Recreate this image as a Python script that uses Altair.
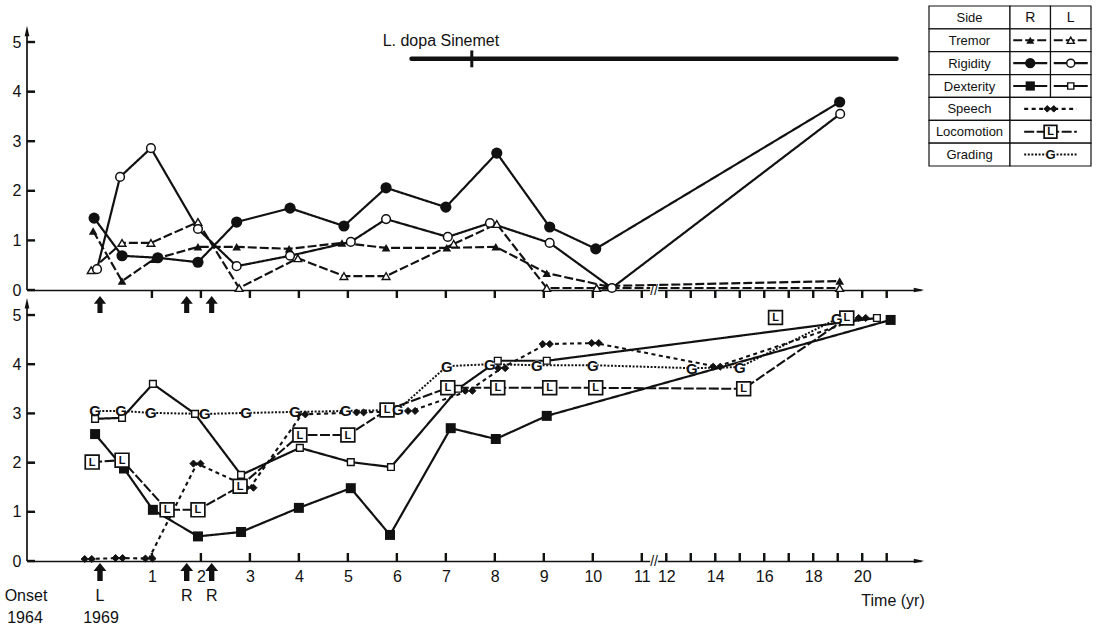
import altair as alt
import pandas as pd

FONT = "Liberation Sans"
INK = "#111111"

# ---------------- top panel: tremor & rigidity (time in years from 1969) ----------------
tremor_R_t = [-0.2, 0.39, 1.04, 1.94, 2.73, 3.8, 4.88, 5.78, 7.02, 8.02, 9.06, 10.27, 19.08]
tremor_R_v = [1.19, 0.18, 0.62, 0.87, 0.87, 0.83, 0.95, 0.85, 0.85, 0.87, 0.34, 0.08, 0.18]
tremor_L_t = [-0.24, 0.39, 0.98, 1.94, 2.78, 3.98, 4.92, 5.78, 7.16, 8.04, 9.06, 10.08, 19.08]
tremor_L_v = [0.40, 0.95, 0.95, 1.37, 0.04, 0.64, 0.28, 0.28, 0.93, 1.33, 0.04, 0.04, 0.04]
rigidity_R_t = [-0.18, 0.39, 1.12, 1.94, 2.73, 3.82, 4.92, 5.78, 7.0, 8.04, 9.12, 10.06, 19.08]
rigidity_R_v = [1.45, 0.69, 0.65, 0.56, 1.37, 1.65, 1.29, 2.06, 1.67, 2.76, 1.27, 0.83, 3.79]
rigidity_L_t = [-0.12, 0.35, 0.98, 1.94, 2.73, 3.82, 5.06, 5.78, 7.04, 7.9, 9.12, 10.39, 19.1]
rigidity_L_v = [0.42, 2.28, 2.86, 1.23, 0.48, 0.69, 0.97, 1.43, 1.07, 1.35, 0.95, 0.04, 3.55]

# ---------------- bottom panel ----------------
dexterity_R_t = [-0.16, 0.43, 1.02, 1.94, 2.82, 4.0, 5.06, 5.86, 7.1, 8.02, 9.06, 21.16]
dexterity_R_v = [2.58, 1.88, 1.04, 0.50, 0.59, 1.08, 1.48, 0.53, 2.70, 2.48, 2.95, 4.90]
dexterity_L_t = [-0.16, 0.39, 1.02, 1.88, 2.82, 4.02, 5.06, 5.88, 7.25, 8.06, 9.06, 20.6]
dexterity_L_v = [2.89, 2.91, 3.60, 2.99, 1.75, 2.30, 2.01, 1.91, 3.50, 4.07, 4.07, 4.94]
speech_t = [-0.3, 0.33, 0.94, 1.92, 3.0, 4.06, 5.25, 6.3, 7.47, 8.14, 9.05, 10.05, 14.06, 20.0]
speech_v = [0.04, 0.06, 0.05, 1.98, 1.49, 2.98, 3.02, 3.05, 3.46, 3.92, 4.41, 4.43, 3.95, 4.94]
locomotion_t = [-0.22, 0.39, 1.31, 1.94, 2.80, 4.02, 5.0, 5.80, 7.04, 8.06, 9.12, 10.06, 15.16, 19.37]
locomotion_v = [2.01, 2.05, 1.04, 1.04, 1.52, 2.56, 2.56, 3.07, 3.52, 3.52, 3.52, 3.52, 3.50, 4.94]
locomotion_extra_t = [16.46]
locomotion_extra_v = [4.95]
grading_t = [-0.16, 0.37, 0.98, 2.08, 2.92, 3.92, 4.96, 6.02, 7.02, 7.9, 8.86, 10.0, 13.04, 15.0, 18.96]
grading_v = [3.05, 3.05, 3.01, 2.99, 3.01, 3.03, 3.05, 3.07, 3.96, 4.00, 3.98, 3.98, 3.92, 3.94, 4.92]

# ---------------- annotations ----------------
event_t = [-0.06, 1.71, 2.22]
event_label = ["L", "R", "R"]
onset_label = ["Onset", "1964"]
start_year_label = "1969"
ldopa_start_t = 6.3
ldopa_end_t = 21.4
ldopa_v = 4.66
ldopa_mark_t = 7.53
ldopa_label_t = 6.9
ldopa_label_v = 5.03
ldopa_label = "L. dopa Sinemet"
break_t = 11.5
tick_t = list(range(1, 12)) + list(range(12, 22))
label_t = list(range(1, 12)) + [12, 14, 16, 18, 20]
y_ticks = [0, 1, 2, 3, 4, 5]
time_title = "Time (yr)"

legend_rows = ["Side", "Tremor", "Rigidity", "Dexterity", "Speech", "Locomotion", "Grading"]
legend_cols = ["R", "L"]

# ---------------- series metadata ----------------
meta = {
    "Tremor R": ("top", "tri_f", "dash", tremor_R_t, tremor_R_v),
    "Tremor L": ("top", "tri_o", "dash", tremor_L_t, tremor_L_v),
    "Rigidity R": ("top", "cir_f", "solid", rigidity_R_t, rigidity_R_v),
    "Rigidity L": ("top", "cir_o", "solid", rigidity_L_t, rigidity_L_v),
    "Dexterity R": ("bottom", "sq_f", "solid", dexterity_R_t, dexterity_R_v),
    "Dexterity L": ("bottom", "sq_o", "solid", dexterity_L_t, dexterity_L_v),
    "Speech": ("bottom", "speech", "speech", speech_t, speech_v),
    "Locomotion": ("bottom", "loco", "loco", locomotion_t, locomotion_v),
    "Grading": ("bottom", "grade", "dot", grading_t, grading_v),
}
rows = []
for name, (panel_name, kind, style, ts, vs) in meta.items():
    for t, v in zip(ts, vs):
        rows.append(dict(series=name, panel=panel_name, kind=kind, style=style, t=t, v=v))
df = pd.DataFrame(rows)
top_df = df[df.panel == "top"].reset_index(drop=True)
bot_df = df[df.panel == "bottom"].reset_index(drop=True)
extra_df = pd.DataFrame({"t": locomotion_extra_t, "v": locomotion_extra_v, "kind": "loco"})


# broken time axis: 1 unit per year up to 11, half a unit per year from 12
def pexpr(f):
    d = f"datum.{f}"
    return f"{d} <= 11 ? {d} : ({d} >= 12 ? 11.5 + ({d} - 12) / 2 : 11 + ({d} - 11) / 2)"


def pos_py(t):
    return t if t <= 11 else (11.5 + (t - 12) / 2 if t >= 12 else 11 + (t - 11) / 2)


X_DOMAIN = [-1.55, 16.7]
W = 894
H1, Y1 = 284, [0, 5.726]
H2, Y2 = 263, [0, 5.346]

STYLES = ["solid", "dash", "speech", "loco", "dot"]
dash_enc = alt.StrokeDash("style:N", legend=None,
                          scale=alt.Scale(domain=STYLES, range=[[1, 0], [9, 3], [4, 3.5], [10, 2.5], [2, 1.6]]))
width_enc = alt.StrokeWidth("style:N", legend=None,
                            scale=alt.Scale(domain=STYLES, range=[2.2, 2.0, 1.9, 1.9, 1.5]))

DIAMONDS = "M-1,0L-0.5,-0.5L0,0L0.5,-0.5L1,0L0.5,0.5L0,0L-0.5,0.5Z"
ARROW = "M0,-1L0.72,-0.1L0.3,-0.1L0.3,1L-0.3,1L-0.3,-0.1L-0.72,-0.1Z"
HEAD_UP = "M0,-1L0.45,1L-0.45,1Z"
HEAD_RIGHT = "M1,0L-1,0.45L-1,-0.45Z"
TICK_DOWN = "M-0.15,0L0.15,0L0.15,1L-0.15,1Z"
TICK_UP = "M-0.15,-1L0.15,-1L0.15,0L-0.15,0Z"
TICK_RIGHT = "M0,-0.15L1,-0.15L1,0.15L0,0.15Z"


def markers(base, X, Y, small=False):
    k = 0.85 if small else 1.0
    f = lambda kind: base.transform_filter(alt.datum.kind == kind)
    layers = [
        f("tri_f").mark_point(shape="triangle-up", filled=True, color=INK, size=75 * k, opacity=1),
        f("tri_o").mark_point(shape="triangle-up", filled=True, fill="white", stroke=INK,
                              strokeWidth=1.4, size=60 * k, opacity=1),
        f("cir_f").mark_point(shape="circle", filled=True, color=INK, size=125 * k, opacity=1),
        f("cir_o").mark_point(shape="circle", filled=True, fill="white", stroke=INK,
                              strokeWidth=1.5, size=75 * k, opacity=1),
        f("sq_f").mark_point(shape="square", filled=True, color=INK, size=100 * k, opacity=1),
        f("sq_o").mark_point(shape="square", filled=True, fill="white", stroke=INK,
                             strokeWidth=1.4, size=45 * k, opacity=1),
        f("speech").mark_point(shape=DIAMONDS, filled=True, color=INK, stroke=INK, strokeWidth=1,
                               size=200 * k, opacity=1),
        f("loco").mark_point(shape="square", filled=True, fill="white", stroke=INK,
                             strokeWidth=1.7, size=190 * k, opacity=1),
        f("loco").mark_text(text="L", font=FONT, fontSize=11, fontWeight="bold", color=INK,
                            baseline="middle", dy=0.5),
        f("grade").mark_point(shape="circle", filled=True, fill="white", size=90 * k, opacity=1),
        f("grade").mark_text(text="G", font=FONT, fontSize=15 if not small else 13, fontWeight="bold",
                             color=INK, baseline="middle", dy=0.5),
    ]
    return [l.encode(x=X, y=Y) for l in layers]


def panel(data, extra, H, ydom, bottom):
    xs = alt.Scale(domain=X_DOMAIN, nice=False, zero=False)
    ys = alt.Scale(domain=ydom, nice=False, zero=False)
    common = dict(grid=False, title=None, domainColor=INK, domainWidth=1.7,
                  labelFont=FONT, labelFontSize=16, labelColor=INK, ticks=False)
    if bottom:
        xaxis = alt.Axis(values=[pos_py(t) for t in label_t],
                         labelExpr="datum.value <= 11 ? datum.value : 12 + (datum.value - 11.5) * 2",
                         domain=True, labelPadding=7, labelOverlap=False, labelFlush=False, **common)
    else:
        xaxis = alt.Axis(labels=False, domain=True, **common)
    yaxis = alt.Axis(values=y_ticks, domain=False, labelPadding=6, **common)
    X = alt.X("pos:Q", scale=xs, axis=xaxis)
    Y = alt.Y("v:Q", scale=ys, axis=yaxis)

    base = alt.Chart(data).transform_calculate(pos=pexpr("t"))
    layers = []
    layers.append(base.mark_line(color=INK).encode(x=X, y=Y, detail="series:N",
                                                   strokeDash=dash_enc, strokeWidth=width_enc))
    # y axis line with arrow head
    ytop = 5.22 if not bottom else 5.24
    layers.append(alt.Chart(pd.DataFrame({"v": [0.0], "v2": [ytop]})).mark_rule(color=INK, strokeWidth=1.7)
                  .encode(x=alt.value(0), y=Y, y2="v2:Q"))
    layers.append(alt.Chart(pd.DataFrame({"v": [ytop]})).mark_point(shape=HEAD_UP, filled=True, color=INK,
                                                                   size=110, opacity=1)
                  .encode(x=alt.value(0), y=Y))
    # inward y ticks (bar glyph plus a dash character as a fallback)
    ytk = alt.Chart(pd.DataFrame({"v": y_ticks}))
    layers.append(ytk.mark_point(shape=TICK_RIGHT, filled=True, color=INK, size=256, opacity=1)
                  .encode(x=alt.value(0), y=Y))
    layers.append(ytk.mark_text(text="\u2014", font=FONT, fontSize=8, fontWeight="bold", color=INK,
                                align="left", baseline="middle")
                  .encode(x=alt.value(0), y=Y))
    # year ticks: downward in the upper panel, upward in the lower panel
    xtk_df = pd.DataFrame({"t": tick_t})
    xtk_df["v"] = 0.0
    xtk = alt.Chart(xtk_df).transform_calculate(pos=pexpr("t"))
    layers.append(xtk.mark_point(shape=TICK_UP if bottom else TICK_DOWN, filled=True, color=INK,
                                 size=256, opacity=1)
                  .encode(x=X, y=Y))
    layers.append(xtk.mark_text(text="|", font=FONT, fontSize=8, fontWeight="bold", color=INK,
                                align="center", baseline="bottom" if bottom else "top",
                                dy=1 if bottom else -1)
                  .encode(x=X, y=Y))
    layers.append(alt.Chart(pd.DataFrame({"t": [W]})).mark_point(shape=HEAD_RIGHT, filled=True, color=INK,
                                                                size=110, opacity=1)
                  .encode(x=alt.value(W - 2), y=alt.value(H)))
    brk = alt.Chart(pd.DataFrame({"t": [break_t]})).transform_calculate(pos=pexpr("t"))
    layers.append(brk.mark_point(shape="square", filled=True, color="white", size=60, opacity=1)
                  .encode(x=X, y=alt.value(H)))
    layers.append(brk.mark_text(text="//", font=FONT, fontSize=14, color=INK, baseline="middle", dy=1)
                  .encode(x=X, y=alt.value(H)))

    layers += markers(base, X, Y)
    if extra is not None:
        layers += markers(alt.Chart(extra).transform_calculate(pos=pexpr("t")), X, Y)

    ev = alt.Chart(pd.DataFrame({"t": event_t, "label": event_label})).transform_calculate(pos=pexpr("t"))
    if not bottom:
        layers.append(ev.mark_point(shape=ARROW, filled=True, color=INK, size=289, opacity=1)
                      .encode(x=X, y=alt.value(H + 14.5)))
        lb = alt.Chart(pd.DataFrame({"t0": [ldopa_start_t], "t1": [ldopa_end_t], "v": [ldopa_v]})) \
            .transform_calculate(pos=pexpr("t0"), pos1=pexpr("t1"))
        layers.append(lb.mark_rule(color=INK, strokeWidth=4.5, strokeCap="round")
                      .encode(x=X, x2="pos1:Q", y=Y))
        lm = alt.Chart(pd.DataFrame({"t": [ldopa_mark_t], "v": [ldopa_v - 0.17], "v2": [ldopa_v + 0.17]})) \
            .transform_calculate(pos=pexpr("t"))
        layers.append(lm.mark_rule(color=INK, strokeWidth=3).encode(x=X, y=Y, y2="v2:Q"))
        lt = alt.Chart(pd.DataFrame({"t": [ldopa_label_t], "v": [ldopa_label_v], "label": [ldopa_label]})) \
            .transform_calculate(pos=pexpr("t"))
        layers.append(lt.mark_text(font=FONT, fontSize=16, color=INK, baseline="middle")
                      .encode(x=X, y=Y, text="label:N"))
    else:
        layers.append(ev.mark_point(shape=ARROW, filled=True, color=INK, size=324, opacity=1)
                      .encode(x=X, y=alt.value(H + 11)))
        layers.append(ev.mark_text(font=FONT, fontSize=16, color=INK, baseline="middle")
                      .encode(x=X, y=alt.value(H + 35), text="label:N"))
        first = alt.Chart(pd.DataFrame({"t": [event_t[0]], "label": [start_year_label]})) \
            .transform_calculate(pos=pexpr("t"))
        layers.append(first.mark_text(font=FONT, fontSize=16, color=INK, baseline="middle", dx=1)
                      .encode(x=X, y=alt.value(H + 57), text="label:N"))
        on = alt.Chart(pd.DataFrame({"label": onset_label, "row": [0, 1]}))
        layers.append(on.transform_filter(alt.datum.row == 0)
                      .mark_text(font=FONT, fontSize=16, color=INK, baseline="middle")
                      .encode(x=alt.value(-1), y=alt.value(H + 35), text="label:N"))
        layers.append(on.transform_filter(alt.datum.row == 1)
                      .mark_text(font=FONT, fontSize=16, color=INK, baseline="middle")
                      .encode(x=alt.value(-2), y=alt.value(H + 57), text="label:N"))
        layers.append(alt.Chart(pd.DataFrame({"label": [time_title]}))
                      .mark_text(font=FONT, fontSize=16, color=INK, baseline="middle")
                      .encode(x=alt.value(W - 28), y=alt.value(H + 40), text="label:N"))
    return alt.layer(*layers)


# ---------------- legend table ----------------
legend_series = {
    "Tremor": ["Tremor R", "Tremor L"],
    "Rigidity": ["Rigidity R", "Rigidity L"],
    "Dexterity": ["Dexterity R", "Dexterity L"],
    "Speech": ["Speech"],
    "Locomotion": ["Locomotion"],
    "Grading": ["Grading"],
}
cells, texts, slines, smarks = [], [], [], []
for i, r in enumerate(legend_rows):
    cells.append(dict(x0=0, x1=2, y0=i, y1=i + 1))
    texts.append(dict(x=1, y=i + 0.5, label=r, size=13))
    if i == 0:
        for j, c in enumerate(legend_cols):
            cells.append(dict(x0=2 + j, x1=3 + j, y0=i, y1=i + 1))
            texts.append(dict(x=2.5 + j, y=i + 0.5, label=c, size=14))
        continue
    names = legend_series[r]
    if len(names) == 2:
        for j, nm in enumerate(names):
            cells.append(dict(x0=2 + j, x1=3 + j, y0=i, y1=i + 1))
            slines.append(dict(x0=2.08 + j, x1=2.92 + j, y=i + 0.5, style=meta[nm][2]))
            smarks.append(dict(x=2.5 + j, y=i + 0.5, kind=meta[nm][1]))
    else:
        nm = names[0]
        cells.append(dict(x0=2, x1=4, y0=i, y1=i + 1))
        slines.append(dict(x0=2.35, x1=3.65, y=i + 0.5, style=meta[nm][2]))
        smarks.append(dict(x=3.0, y=i + 0.5, kind=meta[nm][1]))

# legend sits to the right of the top plot area, in its own scales
lxs = alt.Scale(domain=[0, 4], range=[W + 8, W + 170], nice=False, zero=False)
lys = alt.Scale(domain=[0, 7], range=[0, 160], nice=False, zero=False)
LX = alt.X("x:Q", scale=lxs, axis=None)
LY = alt.Y("y:Q", scale=lys, axis=None)
leg_layers = [
    alt.Chart(pd.DataFrame(cells)).mark_rect(fill="white", stroke=INK, strokeWidth=1.2)
    .encode(x=alt.X("x0:Q", scale=lxs, axis=None), x2="x1:Q",
            y=alt.Y("y0:Q", scale=lys, axis=None), y2="y1:Q"),
    alt.Chart(pd.DataFrame(slines)).mark_rule(color=INK)
    .encode(x=alt.X("x0:Q", scale=lxs, axis=None), x2="x1:Q", y=LY,
            strokeDash=dash_enc, strokeWidth=width_enc),
]
leg_layers += markers(alt.Chart(pd.DataFrame(smarks)), LX, LY, small=True)
leg_layers.append(alt.Chart(pd.DataFrame(texts)).mark_text(font=FONT, color=INK, baseline="middle", dy=0.5)
                  .encode(x=LX, y=LY, text="label:N", size=alt.Size("size:Q", scale=None)))
legend = alt.layer(*leg_layers)

top = alt.layer(panel(top_df, None, H1, Y1, bottom=False), legend).resolve_scale(
    x="independent", y="independent").properties(width=W, height=H1)
bottom = panel(bot_df, extra_df, H2, Y2, bottom=True).properties(width=W, height=H2)

chart = alt.vconcat(top, bottom, spacing=8, bounds="flush").properties(
    padding={"left": 4, "top": 5, "right": 5, "bottom": 0}
).configure(font=FONT).configure_view(stroke=None)

chart.save("out.html", embed_options={"renderer": "svg", "actions": False})
